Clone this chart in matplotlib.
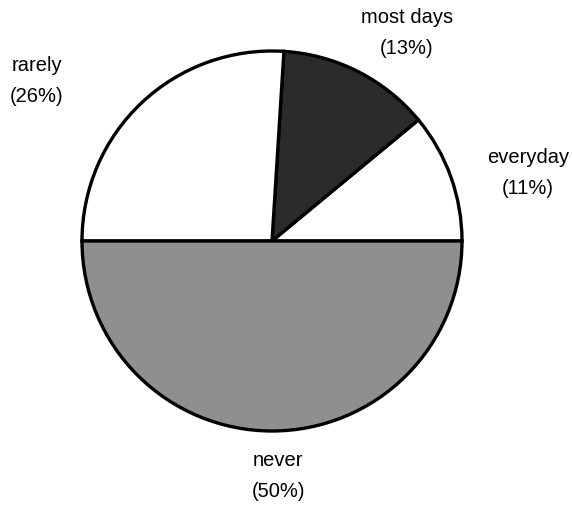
import matplotlib
matplotlib.use("Agg")
import matplotlib.pyplot as plt

# slices counter-clockwise from the 3 o'clock position
categories = ["everyday", "most days", "rarely", "never"]
shares = [11, 13, 26, 50]
fills = ["white", "#2b2b2b", "white", "#8f8f8f"]

# label anchor points (centre of each two-line label), in pie-radius units
label_xy = [(1.347, 0.358), (0.71, 1.095), (-1.237, 0.842), (0.032, -1.237)]

plt.rcParams["font.family"] = ["Liberation Sans", "DejaVu Sans"]

W, H = 572, 505
cx, cy, r = 272, 241, 190

fig = plt.figure(figsize=(W / 100, H / 100), dpi=100)
ax = fig.add_axes([(cx - r) / W, (H - cy - r) / H, 2 * r / W, 2 * r / H])

ax.pie(shares, colors=fills, startangle=0, counterclock=True, radius=1,
       wedgeprops=dict(edgecolor="black", linewidth=2.4))

for name, pct, (x, y) in zip(categories, shares, label_xy):
    ax.text(x, y, f"{name}\n({pct}%)", ha="center", va="center",
            fontsize=14.5, linespacing=1.75, color="black", clip_on=False)

ax.set_xlim(-1, 1)
ax.set_ylim(-1, 1)
ax.set_aspect("equal")
ax.axis("off")

fig.savefig("out.png", dpi=100)
